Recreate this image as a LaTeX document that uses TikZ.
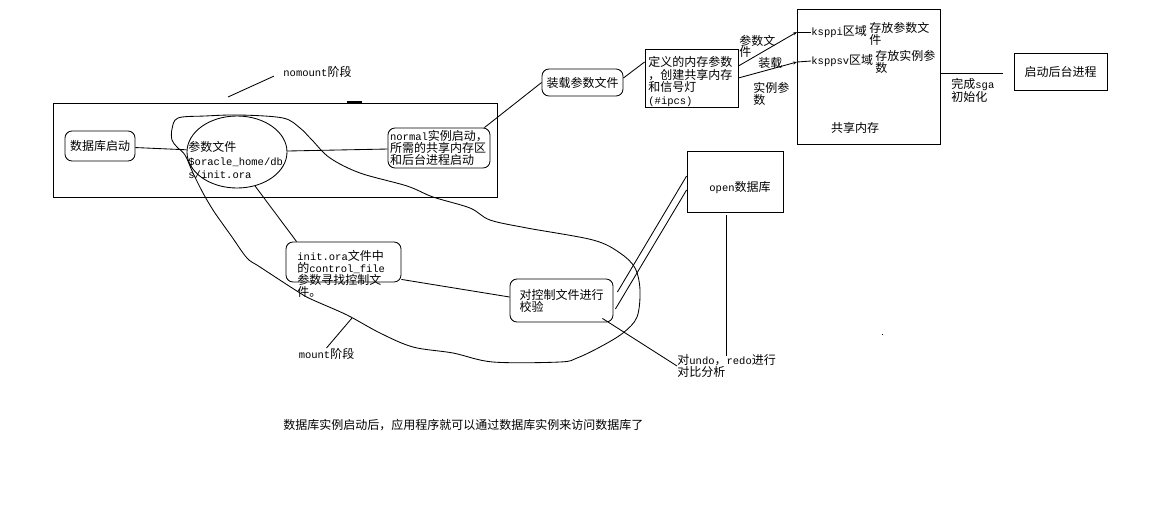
\documentclass[tikz,border=0pt]{standalone}
\usepackage{fontspec}
\setmainfont{Noto Sans CJK SC}
\newfontfamily\monofam{Liberation Mono}
\usetikzlibrary{shapes.geometric,arrows.meta}
\newcommand\lat[1]{{\monofam\fontsize{10.5}{12}\selectfont #1}}
\begin{document}
\begin{tikzpicture}[x=1pt,y=-1pt,line width=0.85pt,
  every node/.style={font=\fontsize{12}{12}\selectfont, inner sep=0pt},
  rbox/.style={draw, rounded corners=7pt},
  sbox/.style={draw},
  txt/.style={align=left},
  tip/.style={-{Stealth[length=4pt,width=3pt]}}]
\useasboundingbox (0,0) rectangle (1151,512);

% nomount stage frame
\node[sbox, minimum width=444pt, minimum height=94pt] (stage) at (275,150) {};
\draw[line width=2pt] (347,101.5) -- (362,101.5);
\node[anchor=west] (nomount) at (283,72) {\lat{nomount}阶段};
\coordinate (nm) at (228,97);
\draw[shorten <=10pt] (nomount.west) -- (nm);

% left chain
\node[rbox, minimum width=70pt, minimum height=30pt] (start) at (100,146) {数据库启动};
\node[draw, ellipse, minimum width=100pt, minimum height=72pt] (param) at (237,152) {};
\node[txt, anchor=north west, font=\fontsize{12}{13.5}\selectfont] (paramtxt) at (188,141)
  {参数文件\\\lat{\$oracle\_home/db}\\\lat{s/init.ora}};
\node[rbox, txt, minimum width=102pt, minimum height=40pt] (normal) at (439,148)
  {\lat{normal}实例启动，\\所需的共享内存区\\和后台进程启动};
\draw (start) -- (param);
\draw (param) -- (normal);

% upper chain
\node[rbox, minimum width=81pt, minimum height=27pt] (load) at (582.5,82.5) {装载参数文件};
\node[sbox, minimum width=93pt, minimum height=58pt] (def) at (691.5,78) {};
\node[txt, anchor=north west, font=\fontsize{12}{12.7}\selectfont] (deftxt) at (648,56)
  {定义的内存参数\\，创建共享内存\\和信号灯\\\lat{(\#ipcs)}};
\draw ([xshift=-6pt]normal.north east) -- (load.west);
\draw ([yshift=4.5pt]load.east) -- ([yshift=16pt]def.west);

% shared memory
\node[sbox, minimum width=143pt, minimum height=135pt] (shm) at (868.5,76.5) {};
\node (shmlbl) at (855,128) {共享内存};
\node[anchor=west] (ksppi) at (811,32) {\lat{ksppi}区域};
\node[txt, anchor=north west] (store1) at (869,21.5) {存放参数文\\件};
\node[anchor=west] (ksppsv) at (811,61) {\lat{ksppsv}区域};
\node[txt, anchor=north west] (store2) at (875,49.5) {存放实例参\\数};
\coordinate (k1) at (797,32);
\coordinate (k2) at (797,62);
\draw[tip] ([yshift=12pt]def.east) -- (k1);
\draw (k1) -- (ksppi.west);
\draw[tip] (def.east) -- (k2);
\draw (k2) -- (ksppsv.west);
\node[txt, anchor=north west, font=\fontsize{12}{11.5}\selectfont] (lbl1) at (739,34.5) {参数文\\件};
\node[anchor=west] (lbl2) at (758,63) {装载};
\node[txt, anchor=north west] (lbl3) at (753,82) {实例参\\数};

% background processes
\node[sbox, minimum width=93pt, minimum height=37pt] (bg) at (1060.5,71.5) {启动后台进程};
\draw[shorten >=11pt] ([yshift=3.5pt]shm.east) -- ([yshift=-1.5pt]bg.west);
\node[txt, anchor=north west, font=\fontsize{12}{13}\selectfont] (sga) at (951,77.5) {完成\lat{sga}\\初始化};

% mount stage
\node[rbox, minimum width=115pt, minimum height=40pt] (initbox) at (343.5,262) {};
\node[txt, anchor=north west] (inittxt) at (297,250)
  {\lat{init.ora}文件中\\的\lat{control\_file}\\参数寻找控制文\\件。};
\draw (param.-62) -- ([xshift=11pt]initbox.north west);
\node[rbox, txt, minimum width=103pt, minimum height=43pt] (chk) at (561.5,300.5) {对控制文件进行\\校验};
\draw ([yshift=3pt]initbox.south east) -- ([yshift=3.5pt]chk.west);

% open
\node[sbox, minimum width=96pt, minimum height=61pt] (open) at (735,181.5) {};
\node (opentxt) at (740,188) {\lat{open}数据库};
\draw ([xshift=4pt,yshift=8.5pt]chk.east) -- ([yshift=5.5pt]open.west);
\draw ([xshift=2pt,yshift=-8.5pt]chk.east) -- ([yshift=-8.5pt]open.west);
\coordinate (vend) at (726,356);
\draw[shorten <=3pt] ([xshift=-9pt]open.south) -- (vend);

\node[txt, anchor=north west] (undo) at (677,354) {对\lat{undo}，\lat{redo}进行\\对比分析};
\draw ([xshift=-11pt,yshift=4pt]chk.south east) -- (undo.west);

% mount loop
\draw plot[smooth cycle, tension=0.55] coordinates {
 (178,118) (205,116) (240,115) (283,118) (300,128) (312,140) (330,158) (360,173)
 (407,186) (433,197) (470,208) (490,220) (527,228) (593,240) (620,253) (635,268)
 (640,290) (637,317) (623,333) (600,347) (577,358) (560,362) (493,362) (453,353)
 (413,347) (380,333) (347,315) (313,300) (300,293) (260,267) (247,258) (232,237)
 (222,223) (213,210) (203,193) (193,173) (185,155) (177,147) (172,140) (172,129)};
\node (mount) at (326.5,354) {\lat{mount}阶段};
\coordinate (mc) at (352,318);
\draw (mount.north) -- (mc);

% summary
\node[anchor=west] (summary) at (283,425) {数据库实例启动后，应用程序就可以通过数据库实例来访问数据库了};
\fill (881.5,333.5) rectangle (883,335);
\end{tikzpicture}
\end{document}
